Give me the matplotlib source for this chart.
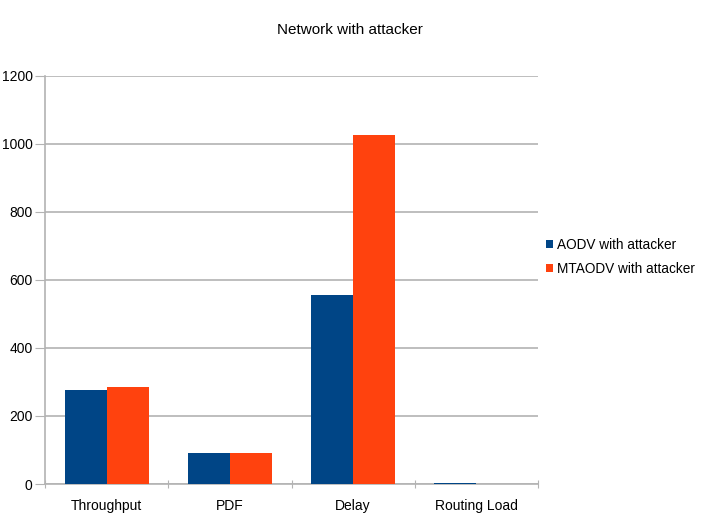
import numpy as np
import matplotlib.pyplot as plt

plt.rcParams['font.family'] = ['Liberation Sans Narrow', 'Liberation Sans', 'DejaVu Sans']

categories = ['Throughput', 'PDF', 'Delay', 'Routing Load']
aodv = [276, 90, 557, 3]
mtaodv = [285, 90, 1027, 0.5]
series_names = ['AODV with attacker', 'MTAODV with attacker']

fig = plt.figure(figsize=(7.05, 5.24), dpi=100)
ax = fig.add_axes([0.064, 0.0763, 0.699, 0.779])

x = np.arange(len(categories))
w = 0.34
ax.bar(x - w / 2, aodv, w, color='#004586', label=series_names[0], zorder=3)
ax.bar(x + w / 2, mtaodv, w, color='#ff420e', label=series_names[1], zorder=3)

ax.set_xlim(-0.5, len(categories) - 0.5)
ax.set_ylim(0, 1200)
ax.set_yticks(np.arange(0, 1201, 200))
ax.yaxis.grid(True, color='#b3b3b3', lw=1.2, zorder=0)

# category ticks sit between the groups, labels centred under them
ax.set_xticks(np.arange(-0.5, len(categories), 1.0))
ax.set_xticklabels([])
ax.set_xticks(x, minor=True)
ax.set_xticklabels(categories, minor=True, fontsize=10)
ax.tick_params(axis='x', which='minor', length=0, pad=11)
ax.tick_params(axis='x', which='major', length=6, color='#b3b3b3', direction='inout')
ax.tick_params(axis='y', length=7, color='#b3b3b3', labelsize=10, pad=2)

for s in ['top', 'right']:
    ax.spines[s].set_visible(False)
for s in ['left', 'bottom']:
    ax.spines[s].set_color('#b3b3b3')
    ax.spines[s].set_linewidth(1.2)

fig.text(0.497, 0.943, 'Network with attacker', ha='center', va='center', fontsize=11)

fig.legend(loc='center left', bbox_to_anchor=(0.774, 0.51), frameon=False,
           fontsize=9.8, handlelength=0.55, handleheight=0.6, handletextpad=0.25,
           labelspacing=0.75, borderaxespad=0, borderpad=0)

fig.savefig('out.png', dpi=100)
